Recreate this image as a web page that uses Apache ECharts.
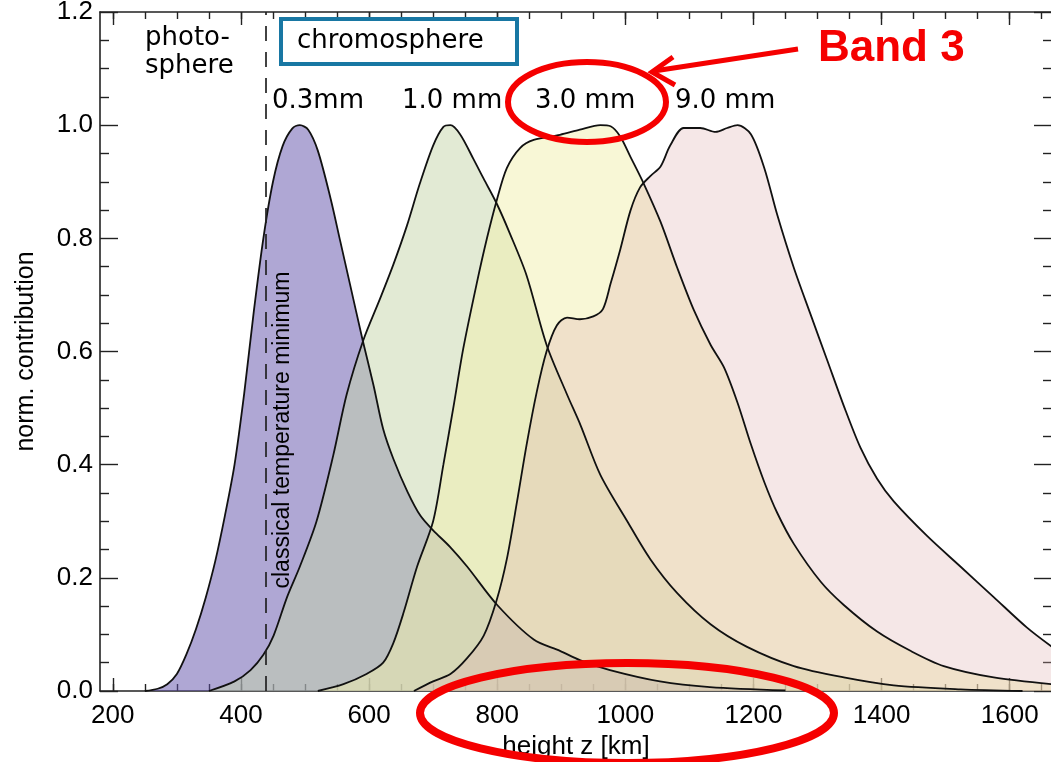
<!DOCTYPE html>
<html><head><meta charset="utf-8">
<script src="https://cdn.jsdelivr.net/npm/echarts@6/dist/echarts.min.js"></script>
<style>html,body{margin:0;padding:0;background:#fff}#c{width:1051px;height:762px}</style>
</head><body><div id="c"></div>
<script>
// ---- data ----
const seriesNames = ['0.3mm', '1.0 mm', '3.0 mm', '9.0 mm'];

const h03 = [250, 270, 285, 300, 315, 330, 345, 360, 375, 390, 405, 420, 435, 450, 465, 480, 492, 505, 520, 540, 555, 570, 590, 607, 622, 638, 660, 680, 700, 727, 753, 800, 857, 898, 930, 976, 1054, 1132, 1250];
const v03 = [0, 0.004, 0.012, 0.03, 0.065, 0.11, 0.165, 0.23, 0.31, 0.40, 0.525, 0.67, 0.80, 0.9, 0.963, 0.994, 1.0, 0.992, 0.955, 0.87, 0.795, 0.72, 0.62, 0.54, 0.463, 0.41, 0.352, 0.31, 0.284, 0.254, 0.22, 0.152, 0.091, 0.071, 0.054, 0.037, 0.017, 0.007, 0.001];

const h10 = [350, 390, 415, 435, 451, 472, 492, 518, 544, 565, 591, 617, 638, 659, 679, 700, 716, 727, 742, 763, 779, 799, 820, 846, 877, 909, 930, 961, 1003, 1039, 1081, 1133, 1190, 1263, 1341, 1419, 1523, 1620];
const v10 = [0, 0.017, 0.037, 0.064, 0.098, 0.166, 0.22, 0.30, 0.416, 0.524, 0.62, 0.693, 0.754, 0.822, 0.896, 0.964, 0.997, 1.0, 0.984, 0.94, 0.905, 0.862, 0.808, 0.734, 0.612, 0.524, 0.47, 0.382, 0.30, 0.233, 0.173, 0.118, 0.078, 0.044, 0.024, 0.01, 0.003, 0];

const h30 = [520, 560, 596, 622, 638, 654, 675, 700, 716, 732, 747, 768, 784, 799, 815, 836, 857, 898, 929, 961, 977, 992, 1008, 1029, 1055, 1081, 1107, 1133, 1154, 1175, 1196, 1217, 1237, 1263, 1305, 1341, 1393, 1445, 1497, 1575, 1666];
const v30 = [0, 0.012, 0.03, 0.05, 0.085, 0.139, 0.22, 0.30, 0.40, 0.504, 0.605, 0.72, 0.80, 0.866, 0.924, 0.96, 0.974, 0.983, 0.992, 1.0, 0.998, 0.98, 0.944, 0.896, 0.829, 0.748, 0.673, 0.612, 0.572, 0.51, 0.436, 0.369, 0.315, 0.26, 0.193, 0.152, 0.105, 0.071, 0.044, 0.024, 0.012];

const h90 = [670, 700, 727, 753, 779, 799, 815, 831, 846, 862, 877, 893, 909, 929, 950, 965, 977, 992, 1008, 1023, 1039, 1055, 1070, 1091, 1117, 1141, 1159, 1175, 1196, 1217, 1237, 1263, 1289, 1315, 1341, 1367, 1393, 1419, 1471, 1523, 1575, 1627, 1666];
const v90 = [0, 0.017, 0.03, 0.058, 0.098, 0.16, 0.233, 0.335, 0.436, 0.53, 0.60, 0.646, 0.66, 0.657, 0.662, 0.675, 0.72, 0.78, 0.849, 0.89, 0.91, 0.927, 0.964, 0.995, 0.995, 0.988, 0.995, 1.0, 0.984, 0.924, 0.842, 0.748, 0.666, 0.585, 0.504, 0.43, 0.375, 0.335, 0.274, 0.22, 0.166, 0.112, 0.078];

const xMajorTicks = [200, 400, 600, 800, 1000, 1200, 1400, 1600];
const xMinorTicks = [200, 250, 300, 350, 400, 450, 500, 550, 600, 650, 700, 750, 800, 850, 900, 950, 1000, 1050, 1100, 1150, 1200, 1250, 1300, 1350, 1400, 1450, 1500, 1550, 1600, 1650];
const tempMinHeight = 439;

// ---- styling ----
const fills = ['rgba(96,80,170,0.5)', 'rgba(197,213,169,0.5)', 'rgba(241,239,173,0.5)', 'rgba(222,175,175,0.3)'];
const AX = '#222';
const zip = (h, v) => h.map((x, i) => [x, v[i]]);
const curves = [zip(h03, v03), zip(h10, v10), zip(h30, v30), zip(h90, v90)];

const X0 = 180, X1 = 1666;
function xAx(pos, custom, len, labels, line) {
  return {
    type: 'value', min: X0, max: X1, position: pos, gridIndex: 0,
    axisLine: { show: line, onZero: false, lineStyle: { color: AX, width: 1.6 } },
    axisTick: { show: true, inside: true, length: len, customValues: custom, lineStyle: { color: AX, width: 1.4 } },
    axisLabel: labels ? { show: true, customValues: custom, margin: 12, color: '#000', fontSize: 26, fontFamily: 'Liberation Sans', formatter: v => String(v) } : { show: false },
    splitLine: { show: false }, minorTick: { show: false }
  };
}
function yAx(pos, labels) {
  return {
    type: 'value', min: 0, max: 1.2, interval: 0.2, position: pos,
    axisLine: { show: true, onZero: false, lineStyle: { color: AX, width: 1.6 } },
    axisTick: { show: true, inside: true, length: 18, lineStyle: { color: AX, width: 1.4 } },
    minorTick: { show: true, splitNumber: 4, length: 9, lineStyle: { color: AX, width: 1.4 } },
    axisLabel: labels ? { show: true, inside: false, margin: 7, color: '#000', fontSize: 26, fontFamily: 'Liberation Sans', formatter: v => v.toFixed(1) } : { show: false },
    splitLine: { show: false }
  };
}

const SM = 0.3;
const series = [];
curves.forEach((d, i) => {
  series.push({
    type: 'line', name: seriesNames[i], data: d, smooth: SM,
    showSymbol: false, symbol: 'none', lineStyle: { width: 0, opacity: 0 },
    areaStyle: { color: fills[i], opacity: 1 }, z: 2, silent: true
  });
});
curves.forEach((d, i) => {
  series.push({
    type: 'line', name: seriesNames[i] + ' line', data: d, smooth: SM,
    showSymbol: false, symbol: 'none', lineStyle: { width: 1.8, color: '#111' }, z: 3, silent: true,
    markLine: i === 0 ? {
      silent: true, symbol: 'none', label: { show: false },
      lineStyle: { color: '#222', width: 1.7, type: [15, 11] },
      data: [{ xAxis: tempMinHeight }]
    } : undefined
  });
});

const chart = echarts.init(document.getElementById('c'), null, { renderer: 'canvas' });
const txt = (text, x, y, font, extra) => Object.assign({
  type: 'text', x, y, z: 100,
  style: Object.assign({ text, font, fill: '#000', align: 'left', textAlign: 'left', verticalAlign: 'middle', textVerticalAlign: 'middle' }, extra || {})
});
const LBL = '26px "DejaVu Sans"';
chart.setOption({
  animation: false,
  backgroundColor: '#fff',
  grid: { left: 100, top: 12, width: 952, height: 679, containLabel: false, outerBoundsMode: 'none' },
  xAxis: [
    Object.assign(xAx('bottom', xMajorTicks, 13, true, true), {
      name: 'height z [km]', nameLocation: 'middle', nameGap: 43,
      nameTextStyle: { color: '#000', fontSize: 26, fontFamily: 'Liberation Sans' }
    }),
    xAx('bottom', xMinorTicks, 7, false, false),
    xAx('top', xMajorTicks, 13, false, true),
    xAx('top', xMinorTicks, 7, false, false)
  ],
  yAxis: [
    Object.assign(yAx('left', true), {
      name: 'norm. contribution', nameLocation: 'middle', nameRotate: 90, nameGap: 61,
      nameTextStyle: { color: '#000', fontSize: 25, fontFamily: 'Liberation Sans' }
    }),
    yAx('right', false)
  ],
  series,
  graphic: [
    { type: 'rect', z: 99, shape: { x: 281, y: 19, width: 236, height: 45 }, style: { fill: '#fff', stroke: '#1877a3', lineWidth: 4 } },
    txt('chromosphere', 297, 41, LBL),
    txt('photo-', 145, 38, LBL),
    txt('sphere', 145, 66, LBL),
    txt('0.3mm', 272, 101, LBL),
    txt('1.0 mm', 402, 101, LBL),
    txt('3.0 mm', 535, 101, LBL),
    txt('9.0 mm', 675, 101, LBL),
    { type: 'text', x: 283, y: 430, rotation: Math.PI / 2, z: 100,
      style: { text: 'classical temperature minimum', font: '23px "Liberation Sans"', fill: '#000', align: 'center', textAlign: 'center', verticalAlign: 'middle', textVerticalAlign: 'middle' } },
    txt('Band 3', 818, 49, 'bold 44px "Liberation Sans"', { fill: '#f50000' }),
    { type: 'ellipse', z: 101, shape: { cx: 587, cy: 102, rx: 79, ry: 40 }, style: { fill: 'none', stroke: '#f50000', lineWidth: 6 } },
    { type: 'line', z: 101, shape: { x1: 798, y1: 49, x2: 654, y2: 71 }, style: { stroke: '#f50000', lineWidth: 5 } },
    { type: 'polyline', z: 101, shape: { points: [[673, 57], [652, 72], [675, 85]] }, style: { fill: 'none', stroke: '#f50000', lineWidth: 5 } },
    { type: 'ellipse', z: 101, shape: { cx: 627, cy: 713, rx: 207, ry: 50 }, style: { fill: 'none', stroke: '#f50000', lineWidth: 8 } }
  ]
});
</script></body></html>
